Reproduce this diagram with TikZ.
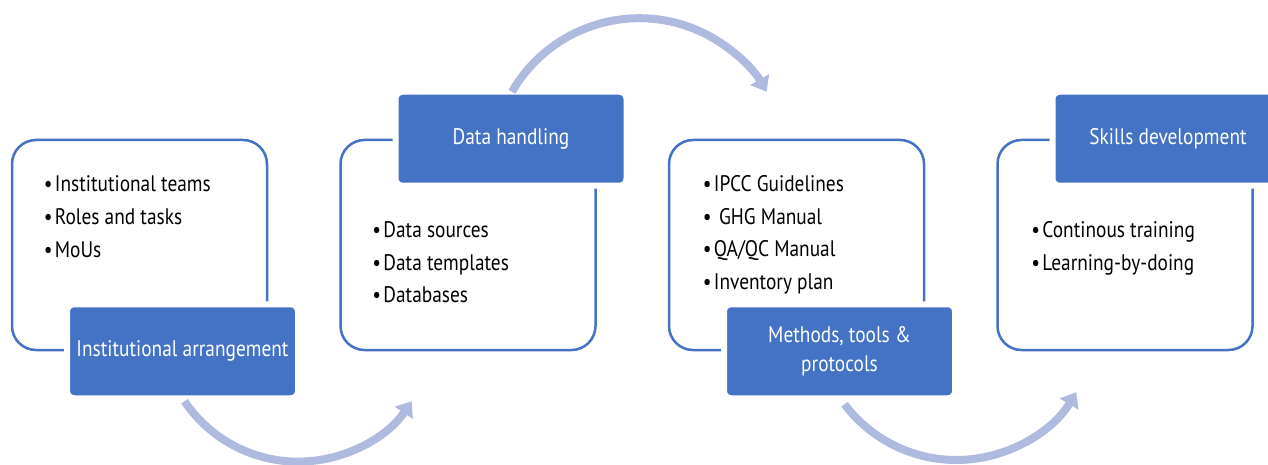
\documentclass[tikz,border=0pt]{standalone}
\usepackage{fontspec}
\setmainfont[FakeStretch=0.86]{PT Sans}
\usetikzlibrary{arrows.meta,positioning}
\definecolor{boxblue}{RGB}{68,114,196}
\definecolor{loopblue}{RGB}{175,187,222}

\begin{document}
\begin{tikzpicture}[x=1pt,y=-1pt,
  panel/.style={draw=boxblue,line width=2.5pt,rounded corners=24pt,minimum width=255pt,minimum height=210pt,inner sep=0pt},
  headbox/.style={fill=boxblue,draw=white,line width=6pt,rounded corners=7pt,minimum width=231pt,minimum height=94pt,inner sep=0pt,text=white,align=center,font=\fontsize{22.5}{29}\selectfont},
  listitem/.style={anchor=base west,inner sep=0pt,font=\fontsize{22.5}{33}\selectfont},
  cyclearrow/.style={draw=loopblue,line width=8pt,-{Triangle[width=21pt,length=14pt]}},
  node distance=71pt]
\useasboundingbox (0,0) rectangle (1268,465);

% the four panels
\node[panel] (inst) at (139.5,245) {};
\node[panel,right=of inst] (data) {};
\node[panel,right=of data] (meth) {};
\node[panel,right=of meth] (skill) {};

% bullet lists
\foreach \t [count=\i from 0] in {Institutional teams,Roles and tasks,MoUs}
  \node[listitem] (inst-\i) at ([xshift=33pt,yshift={-53pt-32.8pt*\i}]inst.north west) {\textbullet\hspace{0.1em}\t};
\foreach \t [count=\i from 0] in {Data sources,Data templates,Databases}
  \node[listitem] (data-\i) at ([xshift=33pt,yshift={-99pt-32.5pt*\i}]data.north west) {\textbullet\hspace{0.1em}\t};
\foreach \t [count=\i from 0] in {IPCC Guidelines,\ GHG Manual,QA/QC Manual,Inventory plan}
  \node[listitem] (meth-\i) at ([xshift=35pt,yshift={-53pt-32.5pt*\i}]meth.north west) {\textbullet\hspace{0.1em}\t};
\foreach \t [count=\i from 0] in {Continous training,Learning-by-doing}
  \node[listitem] (skill-\i) at ([xshift=35pt,yshift={-99pt-32.5pt*\i}]skill.north west) {\textbullet\hspace{0.1em}\t};

% headings
\node[headbox] (inst-head) at ([xshift=43pt]inst.south) {Institutional arrangement};
\node[headbox] (data-head) at ([xshift=43pt]data.north) {Data handling};
\node[headbox] (meth-head) at ([xshift=43pt]meth.south) {Methods, tools \&\\protocols};
\node[headbox] (skill-head) at ([xshift=43pt]skill.north) {Skills development};

% cycle arrows
\draw[cyclearrow] ([xshift=2pt]inst-head.south) arc[start angle=214,end angle=326,radius=137pt];
\draw[cyclearrow] ([xshift=1pt,yshift=-3pt]data-head.north) arc[start angle=150,end angle=30,radius=147pt];
\draw[cyclearrow] ([xshift=5pt,yshift=-3pt]meth-head.south) arc[start angle=217,end angle=329,radius=140pt];

\end{tikzpicture}
\end{document}
